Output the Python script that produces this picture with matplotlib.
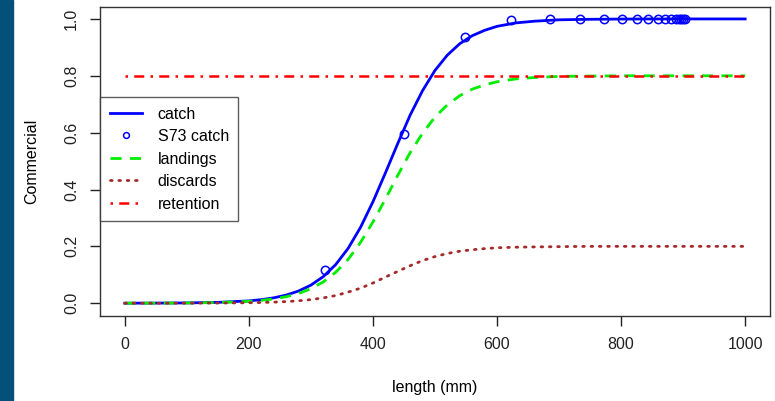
import matplotlib
matplotlib.use("Agg")
import matplotlib.pyplot as plt
from matplotlib.patches import Rectangle

plt.rcParams["font.family"] = ["Liberation Sans", "DejaVu Sans"]

# Curves (length in mm)
lengths = [0, 50, 100, 150, 200, 220, 240, 260, 280, 300, 320, 340, 360, 380, 400,
           420, 440, 460, 480, 500, 520, 540, 560, 580, 600, 630, 660, 700, 750, 800,
           850, 900, 950, 1000]
catch = [0.0001, 0.0004, 0.001, 0.0029, 0.0082, 0.0125, 0.0189, 0.0285, 0.0428,
         0.0636, 0.0937, 0.136, 0.193, 0.267, 0.357, 0.458, 0.562, 0.662, 0.748,
         0.819, 0.873, 0.913, 0.941, 0.960, 0.974, 0.986, 0.992, 0.997, 0.9988,
         0.9996, 1.0, 1.0, 1.0, 1.0]
landings = [0.0001, 0.0003, 0.0008, 0.0023, 0.0066, 0.010, 0.0151, 0.0228, 0.0342,
            0.0509, 0.075, 0.109, 0.154, 0.214, 0.286, 0.366, 0.450, 0.530, 0.598,
            0.655, 0.698, 0.730, 0.753, 0.768, 0.779, 0.789, 0.794, 0.798, 0.799,
            0.8, 0.8, 0.8, 0.8, 0.8]
discards = [0.0, 0.0001, 0.0002, 0.0006, 0.0016, 0.0025, 0.0038, 0.0057, 0.0086,
            0.0127, 0.0187, 0.027, 0.039, 0.053, 0.071, 0.092, 0.112, 0.132, 0.150,
            0.164, 0.175, 0.183, 0.188, 0.192, 0.195, 0.197, 0.198, 0.199, 0.2, 0.2,
            0.2, 0.2, 0.2, 0.2]
retention = [0.8] * len(lengths)

# S73 catch points
s73_length = [323, 450, 548, 623, 686, 734, 772, 801, 825, 844, 859, 870, 880, 888,
              893, 897, 900, 903]
s73_catch = [0.116, 0.595, 0.937, 0.995, 0.999, 1.0, 1.0, 1.0, 1.0, 1.0, 1.0, 1.0,
             1.0, 1.0, 1.0, 1.0, 1.0, 1.0]

fig = plt.figure(figsize=(7.75, 4.01), dpi=100)
fig.patches.append(Rectangle((0, 0), 13 / 775, 1, transform=fig.transFigure,
                             color="#03507B", zorder=0))
ax = fig.add_axes([100 / 775, 1 - 316 / 401, 670 / 775, 309 / 401])

ax.plot(lengths, catch, color="blue", lw=2, label="catch")
ax.plot(s73_length, s73_catch, "o", mfc="none", mec="blue", ms=6, mew=1.1,
        label="S73 catch")
ax.plot(lengths, landings, color="#00EE00", lw=2, ls=(0, (4, 3)), label="landings")
ax.plot(lengths, discards, color="#A52A2A", lw=2, ls=(0, (0.6, 2.4)),
        dash_capstyle="round", label="discards")
ax.plot(lengths, retention, color="red", lw=1.8, ls=(0, (1, 2.5, 4, 2.5)),
        label="retention")

ax.set_xlim(-40, 1040)
ax.set_ylim(-0.045, 1.042)
ax.set_xticks([0, 200, 400, 600, 800, 1000])
ax.set_yticks([0.0, 0.2, 0.4, 0.6, 0.8, 1.0])
ax.set_yticklabels(["0.0", "0.2", "0.4", "0.6", "0.8", "1.0"], rotation=90, va="center")
ax.tick_params(direction="out", length=7, width=1, labelsize=11.5, pad=8, colors="#222222")
for s in ax.spines.values():
    s.set_color("#333333")
    s.set_linewidth(1)

ax.set_xlabel("length (mm)", fontsize=11.5, labelpad=20)
ax.set_ylabel("Commercial", fontsize=11.5, labelpad=18)

leg = ax.legend(loc="upper left", bbox_to_anchor=(0, 0.709), fontsize=11.5,
                frameon=True, fancybox=False, edgecolor="#333333", handlelength=2.0,
                borderaxespad=0, borderpad=0.6, labelspacing=0.47, handletextpad=1.0,
                markerscale=0.7)
leg.get_frame().set_linewidth(1)

fig.savefig("out.png", dpi=100)
